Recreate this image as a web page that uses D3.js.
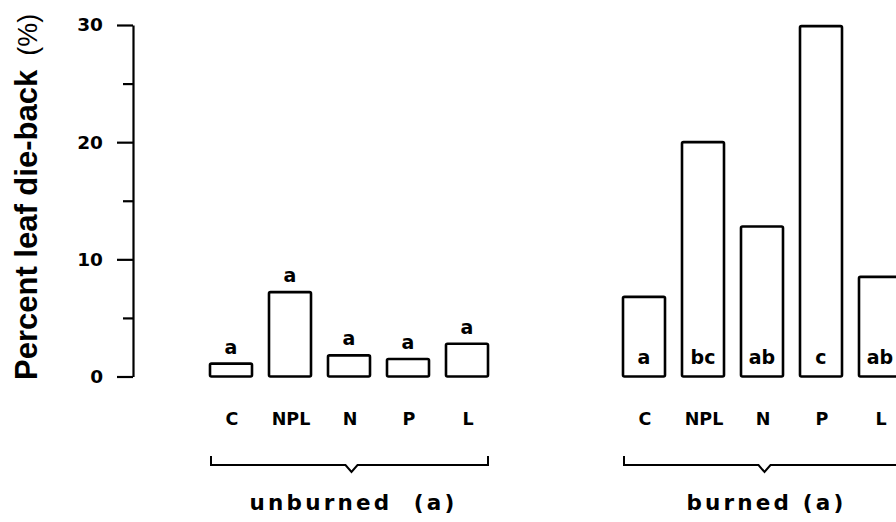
<!DOCTYPE html>
<html>
<head>
<meta charset="utf-8">
<script src="https://cdn.jsdelivr.net/npm/d3@7"></script>
<style>
  html, body { margin: 0; padding: 0; background: #fff; }
  svg { display: block; }
</style>
</head>
<body>
<svg id="chart" width="896" height="522"></svg>
<script>
// ---- data ----
const categories = ["C", "NPL", "N", "P", "L"];
const unburnedValues = [1.1, 7.2, 1.8, 1.5, 2.8];
const burnedValues = [6.8, 20.0, 12.8, 29.9, 8.5];
const unburnedLetters = ["a", "a", "a", "a", "a"];
const burnedLetters = ["a", "bc", "ab", "c", "ab"];
const groupLabels = ["unburned  (a)", "burned (a)"];
const groupSlotStart = [0, 7];
const yMajorTicks = [0, 10, 20, 30];
const yMinorTicks = [5, 15, 25];
const yTitle = "Percent leaf die-back";
const yUnit = "(%)";

// ---- layout ----
const svg = d3.select("#chart");
const axisX = 133;
const y = d3.scaleLinear().domain([0, 30]).range([376.5, 25]);
const xs = d3.scaleLinear().domain([0, 11]).range([231, 880]);
const barW = 42;
const boldFont = "'DejaVu Sans', sans-serif";

// y axis: major ticks
const gAxis = svg.append("g").attr("transform", `translate(${axisX},0)`);
gAxis.call(d3.axisLeft(y).tickValues(yMajorTicks).tickSize(16).tickSizeOuter(0).tickPadding(14).tickFormat(d3.format("d")));
gAxis.select(".domain").attr("stroke", "#000").attr("stroke-width", 2.2);
gAxis.selectAll(".tick line").attr("stroke", "#000").attr("stroke-width", 2.2);
gAxis.selectAll(".tick text")
  .attr("font-family", boldFont).attr("font-weight", "bold").attr("font-size", 18.5).attr("fill", "#000");
// minor ticks
const gMinor = svg.append("g").attr("transform", `translate(${axisX},0)`);
gMinor.call(d3.axisLeft(y).tickValues(yMinorTicks).tickSize(10).tickSizeOuter(0).tickFormat(""));
gMinor.select(".domain").remove();
gMinor.selectAll(".tick line").attr("stroke", "#000").attr("stroke-width", 2.2);

// y title
const yt = svg.append("text")
  .attr("transform", "translate(37,380) rotate(-90)")
  .attr("font-family", "'Liberation Sans', Arial, sans-serif")
  .attr("fill", "#000");
yt.append("tspan").attr("font-weight", "bold").attr("font-size", 31).text(yTitle);
yt.append("tspan").attr("dx", 14).attr("font-size", 27).attr("font-weight", "normal").text(yUnit);

// groups
const groups = [
  { values: unburnedValues, letters: unburnedLetters, inside: false },
  { values: burnedValues, letters: burnedLetters, inside: true }
];

groups.forEach((g, gi) => {
  const start = groupSlotStart[gi];
  const data = categories.map((c, i) => ({ cat: c, v: g.values[i], letter: g.letters[i], slot: start + i }));
  const gg = svg.append("g");

  gg.selectAll("rect").data(data).join("rect")
    .attr("x", d => xs(d.slot) - barW / 2)
    .attr("y", d => y(d.v))
    .attr("width", barW)
    .attr("height", d => y(0) - y(d.v))
    .attr("rx", 1.5)
    .attr("fill", "#fff")
    .attr("stroke", "#000")
    .attr("stroke-width", 2.6);

  gg.selectAll("text.sig").data(data).join("text")
    .attr("class", "sig")
    .attr("x", d => xs(d.slot))
    .attr("y", d => g.inside ? 364 : y(d.v) - 10)
    .attr("text-anchor", "middle")
    .attr("font-family", boldFont).attr("font-weight", "bold").attr("font-size", 19)
    .attr("fill", "#000")
    .text(d => d.letter);

  gg.selectAll("text.cat").data(data).join("text")
    .attr("class", "cat")
    .attr("x", d => xs(d.slot) + 1)
    .attr("y", 425)
    .attr("text-anchor", "middle")
    .attr("font-family", boldFont).attr("font-weight", "bold").attr("font-size", 17.5)
    .attr("fill", "#000")
    .text(d => d.cat);

  // bracket
  const left = xs(start) - barW / 2 + 1;
  const right = xs(start + categories.length - 1) + barW / 2;
  const mid = (left + right) / 2 + 2;
  const by = 465;
  const p = d3.path();
  p.moveTo(left, by - 9);
  p.lineTo(left, by);
  p.lineTo(mid - 6, by);
  p.lineTo(mid, by + 7);
  p.lineTo(mid + 6, by);
  p.lineTo(right, by);
  p.lineTo(right, by - 9);
  gg.append("path").attr("d", p.toString())
    .attr("fill", "none").attr("stroke", "#000").attr("stroke-width", 2);

  gg.append("text")
    .attr("x", mid + 2)
    .attr("y", 510)
    .attr("text-anchor", "middle")
    .attr("font-family", boldFont).attr("font-weight", "bold").attr("font-size", 21.5)
    .attr("letter-spacing", "3.2px")
    .attr("xml:space", "preserve")
    .style("white-space", "pre")
    .attr("fill", "#000")
    .text(groupLabels[gi]);
});
</script>
</body>
</html>
